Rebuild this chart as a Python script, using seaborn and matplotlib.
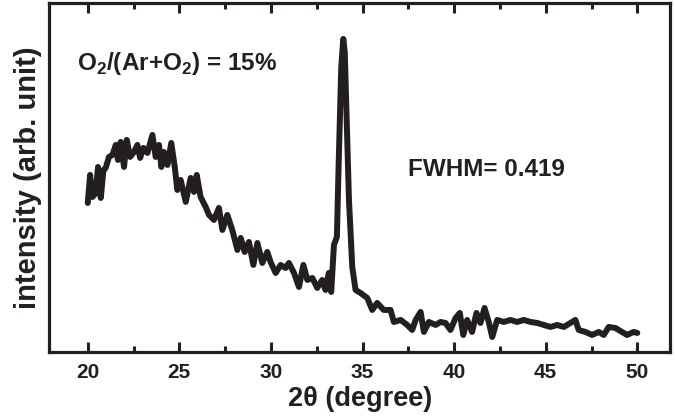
import matplotlib
matplotlib.use('Agg')
import matplotlib.pyplot as plt
from matplotlib.ticker import MultipleLocator
import seaborn as sns

# XRD pattern (arbitrary intensity units)
two_theta = [
    20.0, 20.13, 20.26, 20.44, 20.56, 20.71, 20.86, 20.98, 21.16, 21.35,
    21.53, 21.65, 21.8, 21.98, 22.13, 22.31, 22.53, 22.71, 22.86, 23.04,
    23.26, 23.53, 23.71, 23.89, 24.02, 24.16, 24.35, 24.56, 24.75, 24.89,
    25.07, 25.35, 25.62, 25.8, 25.95, 26.16, 26.44, 26.62, 26.89, 27.16,
    27.35, 27.62, 27.89, 28.17, 28.35, 28.57, 28.8, 29.04, 29.26, 29.53,
    29.8, 29.98, 30.26, 30.53, 30.8, 30.98, 31.26, 31.53, 31.77, 31.99,
    32.26, 32.53, 32.8, 32.98, 33.16, 33.29, 33.44, 33.6, 33.7, 33.84,
    33.95, 34.03, 34.14, 34.26, 34.44, 34.62, 34.89, 35.26, 35.53, 35.8,
    36.16, 36.53, 36.71, 37.08, 37.44, 37.71, 37.9, 38.17, 38.35, 38.62,
    38.99, 39.26, 39.53, 39.8, 40.08, 40.31, 40.5, 40.71, 40.98, 41.22,
    41.44, 41.66, 41.89, 42.08, 42.35, 42.71, 43.08, 43.44, 43.8, 44.17,
    44.53, 44.9, 45.26, 45.62, 45.99, 46.35, 46.62, 46.8, 47.17, 47.53,
    47.9, 48.17, 48.44, 48.8, 49.17, 49.44, 49.8, 50.0,
]
intensity = [
    149, 177, 155, 159, 185, 154, 182, 184, 195, 197,
    207, 192, 210, 185, 212, 195, 200, 207, 194, 204,
    199, 217, 195, 207, 185, 200, 187, 209, 185, 162,
    172, 150, 174, 160, 177, 155, 145, 137, 132, 144,
    122, 137, 122, 102, 114, 100, 110, 87, 109, 89,
    100, 90, 79, 87, 84, 89, 79, 65, 87, 72,
    74, 64, 72, 62, 79, 60, 107, 115, 190, 285,
    313, 300, 230, 152, 85, 62, 59, 54, 42, 49,
    42, 42, 30, 32, 27, 22, 32, 40, 20, 30,
    27, 30, 29, 22, 34, 39, 17, 32, 20, 39,
    29, 44, 30, 15, 32, 30, 32, 30, 32, 30,
    29, 27, 25, 27, 25, 29, 32, 22, 20, 17,
    20, 17, 25, 24, 20, 17, 20, 19,
]

sns.set_style('ticks')
plt.rcParams['font.family'] = ['Liberation Sans', 'DejaVu Sans']
plt.rcParams['font.weight'] = 'bold'
plt.rcParams['mathtext.fontset'] = 'custom'
plt.rcParams['mathtext.rm'] = 'Liberation Sans:bold'
plt.rcParams['mathtext.bf'] = 'Liberation Sans:bold'

ink = '#231f20'

fig, ax = plt.subplots(figsize=(6.75, 4.19), dpi=100)
fig.subplots_adjust(left=0.073, right=0.993, top=0.993, bottom=0.16)

sns.lineplot(x=two_theta, y=intensity, ax=ax, color=ink, linewidth=4.3)

ax.set_xlim(17.9, 51.8)
ax.set_ylim(0, 349)
ax.xaxis.set_major_locator(MultipleLocator(5))
ax.xaxis.set_minor_locator(MultipleLocator(2.5))
ax.set_yticks([])

for side in ['left', 'right', 'top', 'bottom']:
    ax.spines[side].set_visible(True)
    ax.spines[side].set_linewidth(2.3)
    ax.spines[side].set_color(ink)

ax.tick_params(axis='x', which='major', direction='in', length=7, width=2.2,
               top=True, color=ink, labelsize=15, pad=8, labelcolor=ink)
ax.tick_params(axis='x', which='minor', direction='in', length=4, width=2.2,
               top=True, color=ink)
for lab in ax.get_xticklabels():
    lab.set_fontweight('bold')

ax.set_xlabel('2θ (degree)', fontsize=19.5, fontweight='bold', color=ink, labelpad=3)
ax.set_ylabel('intensity (arb. unit)', fontsize=21, fontweight='bold', color=ink, labelpad=5)

ax.text(19.4, 282, r'O$_{2}$/(Ar+O$_{2}$) = 15%', fontsize=17.5, fontweight='bold',
        color=ink, va='baseline', ha='left')
ax.text(37.46, 176, 'FWHM= 0.419', fontsize=17.5, fontweight='bold',
        color=ink, va='baseline', ha='left')

fig.savefig('out.png', dpi=100)
